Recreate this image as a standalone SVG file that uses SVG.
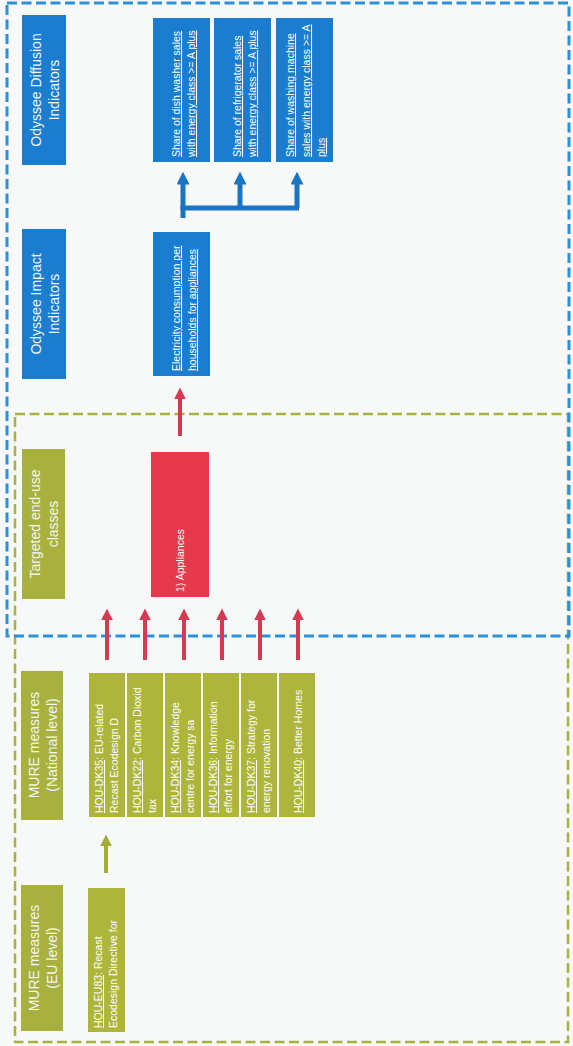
<svg xmlns="http://www.w3.org/2000/svg" width="573" height="1046" viewBox="0 0 573 1046">
<defs>
<style>
.bg{fill:#f7f8f8}
.lab{font-family:"Liberation Sans",Arial,sans-serif;font-size:14px;fill:#f4f6ee;text-anchor:middle}
.t{font-family:"Liberation Sans",Arial,sans-serif;font-size:10.5px;fill:#ffffff}
.u{text-decoration:underline}
.blue{fill:#1b7dd0}
.olive{fill:#a8b13d}
.olive2{fill:#adb63a}
.red{fill:#e63a4c}
.bluedash{fill:none;stroke:#2a92da;stroke-width:3;stroke-dasharray:10 4.5}
.olivedash{fill:none;stroke:#a9b23e;stroke-width:2.5;stroke-dasharray:10 4.5}
.ra{stroke:#d43a52;stroke-width:4;fill:none}
.ba{stroke:#1a74c4;stroke-width:5;fill:none}
.oa{stroke:#a3ad38;stroke-width:4;fill:none}
</style>
<marker id="mr" viewBox="0 0 10 10" refX="2" refY="5" markerWidth="3" markerHeight="3" orient="auto" markerUnits="strokeWidth"><path d="M0,0 L10,5 L0,10 z" fill="#d43a52"/></marker>
<marker id="mb" viewBox="0 0 10 10" refX="2" refY="5" markerWidth="2.6" markerHeight="2.6" orient="auto" markerUnits="strokeWidth"><path d="M0,0 L10,5 L0,10 z" fill="#1a74c4"/></marker>
<marker id="mo" viewBox="0 0 10 10" refX="2" refY="5" markerWidth="3" markerHeight="3" orient="auto" markerUnits="strokeWidth"><path d="M0,0 L10,5 L0,10 z" fill="#a3ad38"/></marker>
</defs>
<rect class="bg" x="0" y="0" width="573" height="1046"/>

<g id="containers">
<rect class="olivedash" x="15" y="414" width="553" height="628"/>
<rect class="bluedash" x="7" y="3" width="562" height="633"/>
</g>

<g id="lbl-diffusion"><rect class="blue" x="22" y="15" width="44" height="150"/>
<text class="lab" transform="translate(41 90) rotate(-90)">Odyssee Diffusion</text>
<text class="lab" transform="translate(59 90) rotate(-90)">Indicators</text></g>
<g id="lbl-impact"><rect class="blue" x="22" y="229" width="44" height="150"/>
<text class="lab" transform="translate(41 304) rotate(-90)">Odyssee Impact</text>
<text class="lab" transform="translate(59 304) rotate(-90)">Indicators</text></g>
<g id="lbl-targeted"><rect class="olive" x="22" y="449" width="43" height="150"/>
<text class="lab" transform="translate(40 524) rotate(-90)">Targeted end-use</text>
<text class="lab" transform="translate(58 524) rotate(-90)">classes</text></g>
<g id="lbl-national"><rect class="olive" x="21" y="671" width="42" height="149"/>
<text class="lab" transform="translate(39 745) rotate(-90)">MURE measures</text>
<text class="lab" transform="translate(57 745) rotate(-90)">(National level)</text></g>
<g id="lbl-eu"><rect class="olive" x="21" y="885" width="42" height="146"/>
<text class="lab" transform="translate(39 958) rotate(-90)">MURE measures</text>
<text class="lab" transform="translate(57 958) rotate(-90)">(EU level)</text></g>

<g id="ind-dishwasher"><rect class="blue" x="153" y="18" width="57" height="144"/>
<text class="t u" transform="translate(180 157) rotate(-90)">Share of dish washer sales</text>
<text class="t u" transform="translate(195 157) rotate(-90)">with energy class &gt;= A plus</text></g>
<g id="ind-refrigerator"><rect class="blue" x="214" y="18" width="57" height="144"/>
<text class="t u" transform="translate(241 157) rotate(-90)">Share of refrigerator sales</text>
<text class="t u" transform="translate(256 157) rotate(-90)">with energy class &gt;= A plus</text></g>
<g id="ind-washing"><rect class="blue" x="276" y="18" width="57" height="144"/>
<text class="t u" transform="translate(294 157) rotate(-90)">Share of washing machine</text>
<text class="t u" transform="translate(310 157) rotate(-90)">sales with energy class &gt;= A</text>
<text class="t u" transform="translate(325 157) rotate(-90)">plus</text></g>
<g id="ind-electricity"><rect class="blue" x="153" y="232" width="57" height="144"/>
<text class="t u" transform="translate(180 371) rotate(-90)">Electricity consumption per</text>
<text class="t u" transform="translate(196 371) rotate(-90)">households for appliances</text></g>

<g id="appliances"><rect class="red" x="151" y="452" width="58" height="145"/>
<text class="t" transform="translate(184 592) rotate(-90)">1) Appliances</text></g>

<g id="dk35"><rect class="olive2" x="89" y="673" width="36" height="144"/>
<text class="t" transform="translate(103 813) rotate(-90)"><tspan class="u">HOU-DK35</tspan>: EU-related</text>
<text class="t" transform="translate(118 813) rotate(-90)">Recast Ecodesign D</text></g>
<g id="dk22"><rect class="olive2" x="127" y="673" width="36" height="144"/>
<text class="t" transform="translate(141 813) rotate(-90)"><tspan class="u">HOU-DK22</tspan>: Carbon Dioxid</text>
<text class="t" transform="translate(156 813) rotate(-90)">tax</text></g>
<g id="dk34"><rect class="olive2" x="165" y="673" width="36" height="144"/>
<text class="t" transform="translate(179 813) rotate(-90)"><tspan class="u">HOU-DK34</tspan>: Knowledge</text>
<text class="t" transform="translate(194 813) rotate(-90)">centre for energy sa</text></g>
<g id="dk36"><rect class="olive2" x="203" y="673" width="36" height="144"/>
<text class="t" transform="translate(217 813) rotate(-90)"><tspan class="u">HOU-DK36</tspan>: Information</text>
<text class="t" transform="translate(232 813) rotate(-90)">effort for energy</text></g>
<g id="dk37"><rect class="olive2" x="241" y="673" width="36" height="144"/>
<text class="t" transform="translate(255 813) rotate(-90)"><tspan class="u">HOU-DK37</tspan>: Strategy for</text>
<text class="t" transform="translate(270 813) rotate(-90)">energy renovation</text></g>
<g id="dk40"><rect class="olive2" x="279" y="673" width="36" height="144"/>
<text class="t" transform="translate(302 813) rotate(-90)"><tspan class="u">HOU-DK40</tspan>: Better Homes</text></g>
<g id="eu83"><rect class="olive2" x="88" y="888" width="37" height="144"/>
<text class="t" transform="translate(102 1028) rotate(-90)"><tspan class="u">HOU-EU83</tspan>: Recast</text>
<text class="t" transform="translate(117 1028) rotate(-90)">Ecodesign Directive for</text></g>

<g id="connectors">
<path class="ba" d="M183,218 V208 H299"/>
<path class="ba" d="M183,210 V182" marker-end="url(#mb)"/>
<path class="ba" d="M240,208 V182" marker-end="url(#mb)"/>
<path class="ba" d="M297,208 V182" marker-end="url(#mb)"/>
<path class="ra" d="M180,436 V397" marker-end="url(#mr)"/>
<path class="ra" d="M107,660 V618" marker-end="url(#mr)"/>
<path class="ra" d="M145,660 V618" marker-end="url(#mr)"/>
<path class="ra" d="M184,660 V618" marker-end="url(#mr)"/>
<path class="ra" d="M222,660 V618" marker-end="url(#mr)"/>
<path class="ra" d="M260,660 V618" marker-end="url(#mr)"/>
<path class="ra" d="M298,660 V618" marker-end="url(#mr)"/>
<path class="oa" d="M106,873 V844" marker-end="url(#mo)"/>
</g>
</svg>
